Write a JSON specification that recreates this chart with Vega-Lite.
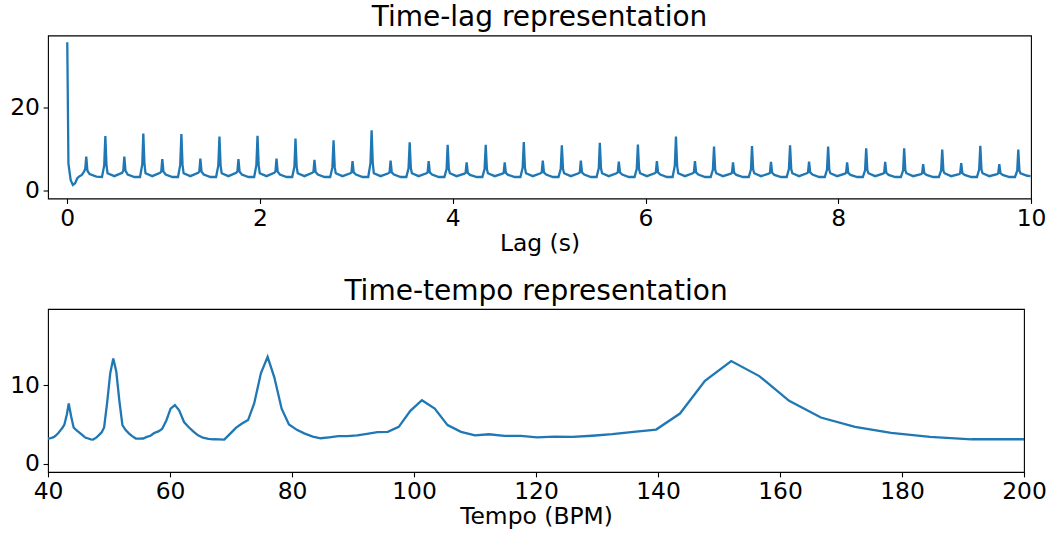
{
  "$schema": "https://vega.github.io/schema/vega-lite/v6.json",
  "padding": {"left": 9, "top": 2.5, "right": 0, "bottom": 0},
  "spacing": 20.5,
  "config": {
    "font": "DejaVu Sans",
    "view": {"stroke": "black", "strokeWidth": 1.1},
    "axis": {"domain": false, "grid": false, "ticks": true, "tickColor": "black", "tickSize": 4.9, "tickWidth": 1.1, "labelFont": "DejaVu Sans", "labelFontSize": 23.4, "labelColor": "black", "labelPadding": 3.6, "labelFlush": false, "labelOverlap": false, "titleFont": "DejaVu Sans", "titleFontSize": 23.4, "titleFontWeight": "normal", "titleColor": "black", "titlePadding": 3.0},
    "title": {"font": "DejaVu Sans", "fontSize": 28, "fontWeight": "normal", "color": "black", "anchor": "middle", "offset": 3.5, "frame": "group", "baseline": "alphabetic"}
  },
  "datasets": {
    "lag": [
      {"lag":0,"value":35.6},{"lag":0.012,"value":6.5},{"lag":0.035,"value":2.6},{"lag":0.058,"value":1.4},{"lag":0.081,"value":1.8},{"lag":0.104,"value":3.0},{"lag":0.128,"value":3.5},{"lag":0.151,"value":3.8},{"lag":0.174,"value":4.6},{"lag":0.186,"value":5.2},{"lag":0.197,"value":8.2},{"lag":0.209,"value":4.8},{"lag":0.232,"value":4.0},{"lag":0.302,"value":3.4},{"lag":0.360,"value":3.3},{"lag":0.383,"value":6.0},
      {"lag":0.395,"value":13.1},{"lag":0.407,"value":6.0},{"lag":0.418,"value":4.2},{"lag":0.488,"value":3.5},{"lag":0.569,"value":4.3},{"lag":0.581,"value":4.8},{"lag":0.592,"value":8.2},{"lag":0.604,"value":4.8},{"lag":0.627,"value":3.9},{"lag":0.697,"value":3.3},{"lag":0.755,"value":3.3},{"lag":0.778,"value":6.3},
      {"lag":0.789,"value":13.7},{"lag":0.801,"value":6.3},{"lag":0.812,"value":4.2},{"lag":0.882,"value":3.5},{"lag":0.963,"value":4.3},{"lag":0.975,"value":4.6},{"lag":0.986,"value":7.6},{"lag":0.998,"value":4.6},{"lag":1.021,"value":3.9},{"lag":1.091,"value":3.3},{"lag":1.149,"value":3.3},{"lag":1.172,"value":6.2},
      {"lag":1.184,"value":13.6},{"lag":1.196,"value":6.2},{"lag":1.207,"value":4.2},{"lag":1.277,"value":3.5},{"lag":1.358,"value":4.3},{"lag":1.370,"value":4.6},{"lag":1.381,"value":7.7},{"lag":1.393,"value":4.6},{"lag":1.416,"value":3.9},{"lag":1.486,"value":3.3},{"lag":1.544,"value":3.3},{"lag":1.567,"value":6.0},
      {"lag":1.579,"value":13.0},{"lag":1.591,"value":6.0},{"lag":1.602,"value":4.2},{"lag":1.672,"value":3.5},{"lag":1.753,"value":4.3},{"lag":1.765,"value":4.6},{"lag":1.776,"value":7.6},{"lag":1.788,"value":4.6},{"lag":1.811,"value":3.9},{"lag":1.881,"value":3.3},{"lag":1.939,"value":3.3},{"lag":1.962,"value":6.1},
      {"lag":1.974,"value":13.2},{"lag":1.986,"value":6.1},{"lag":1.997,"value":4.2},{"lag":2.067,"value":3.5},{"lag":2.148,"value":4.3},{"lag":2.160,"value":4.6},{"lag":2.171,"value":7.7},{"lag":2.183,"value":4.6},{"lag":2.206,"value":3.9},{"lag":2.276,"value":3.3},{"lag":2.334,"value":3.3},{"lag":2.357,"value":5.8},
      {"lag":2.368,"value":12.5},{"lag":2.380,"value":5.8},{"lag":2.391,"value":4.2},{"lag":2.461,"value":3.5},{"lag":2.542,"value":4.3},{"lag":2.554,"value":4.5},{"lag":2.565,"value":7.4},{"lag":2.577,"value":4.5},{"lag":2.600,"value":3.9},{"lag":2.670,"value":3.3},{"lag":2.728,"value":3.3},{"lag":2.751,"value":5.6},
      {"lag":2.763,"value":12.1},{"lag":2.775,"value":5.6},{"lag":2.786,"value":4.2},{"lag":2.856,"value":3.5},{"lag":2.937,"value":4.2},{"lag":2.949,"value":4.4},{"lag":2.960,"value":7.1},{"lag":2.972,"value":4.4},{"lag":2.995,"value":3.9},{"lag":3.065,"value":3.3},{"lag":3.123,"value":3.3},{"lag":3.146,"value":6.6},
      {"lag":3.158,"value":14.5},{"lag":3.170,"value":6.6},{"lag":3.181,"value":4.2},{"lag":3.251,"value":3.5},{"lag":3.332,"value":4.2},{"lag":3.344,"value":4.4},{"lag":3.355,"value":7.2},{"lag":3.367,"value":4.4},{"lag":3.390,"value":3.9},{"lag":3.460,"value":3.3},{"lag":3.518,"value":3.3},{"lag":3.541,"value":5.4},
      {"lag":3.553,"value":11.6},{"lag":3.565,"value":5.4},{"lag":3.576,"value":4.2},{"lag":3.646,"value":3.5},{"lag":3.727,"value":4.2},{"lag":3.739,"value":4.4},{"lag":3.750,"value":7.1},{"lag":3.762,"value":4.4},{"lag":3.785,"value":3.9},{"lag":3.855,"value":3.3},{"lag":3.913,"value":3.3},{"lag":3.936,"value":5.2},
      {"lag":3.947,"value":11.0},{"lag":3.959,"value":5.2},{"lag":3.970,"value":4.2},{"lag":4.040,"value":3.5},{"lag":4.121,"value":4.1},{"lag":4.133,"value":4.3},{"lag":4.144,"value":6.8},{"lag":4.156,"value":4.3},{"lag":4.179,"value":3.8},{"lag":4.249,"value":3.3},{"lag":4.307,"value":3.3},{"lag":4.330,"value":5.2},
      {"lag":4.342,"value":11.0},{"lag":4.354,"value":5.2},{"lag":4.365,"value":4.2},{"lag":4.435,"value":3.5},{"lag":4.516,"value":4.1},{"lag":4.528,"value":4.3},{"lag":4.539,"value":6.8},{"lag":4.551,"value":4.3},{"lag":4.574,"value":3.8},{"lag":4.644,"value":3.3},{"lag":4.702,"value":3.3},{"lag":4.725,"value":5.5},
      {"lag":4.737,"value":11.7},{"lag":4.749,"value":5.5},{"lag":4.760,"value":4.2},{"lag":4.830,"value":3.5},{"lag":4.911,"value":4.2},{"lag":4.923,"value":4.4},{"lag":4.934,"value":7.2},{"lag":4.946,"value":4.4},{"lag":4.969,"value":3.9},{"lag":5.039,"value":3.3},{"lag":5.097,"value":3.3},{"lag":5.120,"value":5.2},
      {"lag":5.132,"value":10.9},{"lag":5.144,"value":5.2},{"lag":5.155,"value":4.2},{"lag":5.225,"value":3.5},{"lag":5.306,"value":4.2},{"lag":5.318,"value":4.4},{"lag":5.329,"value":7.2},{"lag":5.341,"value":4.4},{"lag":5.364,"value":3.9},{"lag":5.434,"value":3.3},{"lag":5.492,"value":3.3},{"lag":5.515,"value":5.4},
      {"lag":5.526,"value":11.5},{"lag":5.538,"value":5.4},{"lag":5.549,"value":4.2},{"lag":5.619,"value":3.5},{"lag":5.700,"value":4.2},{"lag":5.712,"value":4.4},{"lag":5.723,"value":7.0},{"lag":5.735,"value":4.4},{"lag":5.758,"value":3.9},{"lag":5.828,"value":3.3},{"lag":5.886,"value":3.3},{"lag":5.909,"value":5.2},
      {"lag":5.921,"value":11.1},{"lag":5.933,"value":5.2},{"lag":5.944,"value":4.2},{"lag":6.014,"value":3.5},{"lag":6.095,"value":4.2},{"lag":6.107,"value":4.4},{"lag":6.118,"value":7.1},{"lag":6.130,"value":4.4},{"lag":6.153,"value":3.9},{"lag":6.223,"value":3.3},{"lag":6.281,"value":3.3},{"lag":6.304,"value":6.0},
      {"lag":6.316,"value":13.0},{"lag":6.328,"value":6.0},{"lag":6.339,"value":4.2},{"lag":6.409,"value":3.5},{"lag":6.490,"value":4.2},{"lag":6.502,"value":4.4},{"lag":6.513,"value":7.1},{"lag":6.525,"value":4.4},{"lag":6.548,"value":3.9},{"lag":6.618,"value":3.3},{"lag":6.676,"value":3.3},{"lag":6.699,"value":5.0},
      {"lag":6.711,"value":10.6},{"lag":6.723,"value":5.0},{"lag":6.734,"value":4.2},{"lag":6.804,"value":3.5},{"lag":6.885,"value":4.1},{"lag":6.897,"value":4.3},{"lag":6.908,"value":6.8},{"lag":6.920,"value":4.3},{"lag":6.943,"value":3.8},{"lag":7.013,"value":3.3},{"lag":7.071,"value":3.3},{"lag":7.094,"value":5.1},
      {"lag":7.105,"value":10.7},{"lag":7.117,"value":5.1},{"lag":7.128,"value":4.2},{"lag":7.198,"value":3.5},{"lag":7.279,"value":4.1},{"lag":7.291,"value":4.3},{"lag":7.302,"value":6.9},{"lag":7.314,"value":4.3},{"lag":7.337,"value":3.8},{"lag":7.407,"value":3.3},{"lag":7.465,"value":3.3},{"lag":7.488,"value":5.2},
      {"lag":7.500,"value":10.9},{"lag":7.512,"value":5.2},{"lag":7.523,"value":4.2},{"lag":7.593,"value":3.5},{"lag":7.674,"value":4.2},{"lag":7.686,"value":4.4},{"lag":7.697,"value":7.0},{"lag":7.709,"value":4.4},{"lag":7.732,"value":3.9},{"lag":7.802,"value":3.3},{"lag":7.860,"value":3.3},{"lag":7.883,"value":5.0},
      {"lag":7.895,"value":10.6},{"lag":7.907,"value":5.0},{"lag":7.918,"value":4.2},{"lag":7.988,"value":3.5},{"lag":8.069,"value":4.1},{"lag":8.081,"value":4.3},{"lag":8.092,"value":6.8},{"lag":8.104,"value":4.3},{"lag":8.127,"value":3.8},{"lag":8.197,"value":3.3},{"lag":8.255,"value":3.3},{"lag":8.278,"value":4.9},
      {"lag":8.290,"value":10.2},{"lag":8.302,"value":4.9},{"lag":8.313,"value":4.2},{"lag":8.383,"value":3.5},{"lag":8.464,"value":4.1},{"lag":8.476,"value":4.3},{"lag":8.487,"value":6.9},{"lag":8.499,"value":4.3},{"lag":8.522,"value":3.8},{"lag":8.592,"value":3.3},{"lag":8.650,"value":3.3},{"lag":8.673,"value":4.9},
      {"lag":8.684,"value":10.2},{"lag":8.696,"value":4.9},{"lag":8.707,"value":4.2},{"lag":8.777,"value":3.5},{"lag":8.858,"value":4.0},{"lag":8.870,"value":4.2},{"lag":8.881,"value":6.4},{"lag":8.893,"value":4.2},{"lag":8.916,"value":3.8},{"lag":8.986,"value":3.3},{"lag":9.044,"value":3.3},{"lag":9.067,"value":4.8},
      {"lag":9.079,"value":9.9},{"lag":9.091,"value":4.8},{"lag":9.102,"value":4.2},{"lag":9.172,"value":3.5},{"lag":9.253,"value":4.0},{"lag":9.265,"value":4.2},{"lag":9.276,"value":6.6},{"lag":9.288,"value":4.2},{"lag":9.311,"value":3.8},{"lag":9.381,"value":3.3},{"lag":9.439,"value":3.3},{"lag":9.462,"value":5.1},
      {"lag":9.474,"value":10.8},{"lag":9.486,"value":5.1},{"lag":9.497,"value":4.2},{"lag":9.567,"value":3.5},{"lag":9.648,"value":4.0},{"lag":9.660,"value":4.2},{"lag":9.671,"value":6.4},{"lag":9.683,"value":4.2},{"lag":9.706,"value":3.8},{"lag":9.776,"value":3.3},{"lag":9.834,"value":3.3},{"lag":9.857,"value":4.8},
      {"lag":9.868,"value":9.9},{"lag":9.880,"value":4.8},{"lag":9.891,"value":4.2},{"lag":9.961,"value":3.6},{"lag":9.995,"value":3.5}
    ],
    "tempo": [
      {"bpm":39.75,"value":3.19},{"bpm":40.1,"value":3.2},{"bpm":40.4,"value":3.25},{"bpm":40.7,"value":3.32},{"bpm":41.0,"value":3.4},{"bpm":41.3,"value":3.6},{"bpm":41.7,"value":3.9},{"bpm":42.0,"value":4.2},{"bpm":42.4,"value":4.6},{"bpm":42.7,"value":5.0},{"bpm":43.1,"value":6.3},{"bpm":43.4,"value":7.66},{"bpm":43.8,"value":6.0},{"bpm":44.2,"value":4.6},{"bpm":44.6,"value":4.3},{"bpm":44.9,"value":4.1},{"bpm":45.3,"value":3.85},{"bpm":45.7,"value":3.6},{"bpm":46.1,"value":3.32},{"bpm":46.6,"value":3.2},{"bpm":47.0,"value":3.1},{"bpm":47.4,"value":3.06},{"bpm":47.9,"value":3.3},{"bpm":48.3,"value":3.6},{"bpm":48.8,"value":4.0},{"bpm":49.2,"value":4.6},{"bpm":49.7,"value":7.8},{"bpm":50.2,"value":11.5},{"bpm":50.7,"value":13.4},{"bpm":51.2,"value":11.7},{"bpm":51.7,"value":8.0},{"bpm":52.2,"value":4.9},{"bpm":52.7,"value":4.3},{"bpm":53.3,"value":3.83},{"bpm":53.8,"value":3.5},{"bpm":54.4,"value":3.19},{"bpm":55.0,"value":3.19},{"bpm":55.6,"value":3.2},{"bpm":56.2,"value":3.4},{"bpm":56.8,"value":3.55},{"bpm":57.4,"value":3.9},{"bpm":58.1,"value":4.1},{"bpm":58.7,"value":4.4},{"bpm":59.4,"value":5.5},{"bpm":60.1,"value":7.0},{"bpm":60.8,"value":7.45},{"bpm":61.5,"value":6.8},{"bpm":62.3,"value":5.3},{"bpm":63.0,"value":4.7},{"bpm":63.8,"value":4.1},{"bpm":64.6,"value":3.6},{"bpm":65.4,"value":3.3},{"bpm":66.3,"value":3.14},{"bpm":67.1,"value":3.1},{"bpm":68.0,"value":3.08},{"bpm":68.9,"value":3.06},{"bpm":69.8,"value":3.75},{"bpm":70.8,"value":4.55},{"bpm":71.8,"value":5.1},{"bpm":72.8,"value":5.55},{"bpm":73.8,"value":7.66},{"bpm":74.9,"value":11.5},{"bpm":76.0,"value":13.6},{"bpm":77.1,"value":11.0},{"bpm":78.3,"value":7.0},{"bpm":79.5,"value":5.0},{"bpm":80.8,"value":4.3},{"bpm":82.0,"value":3.85},{"bpm":83.4,"value":3.45},{"bpm":84.7,"value":3.23},{"bpm":86.1,"value":3.35},{"bpm":87.6,"value":3.49},{"bpm":89.1,"value":3.5},{"bpm":90.7,"value":3.6},{"bpm":92.3,"value":3.8},{"bpm":94.0,"value":4.0},{"bpm":95.7,"value":4.04},{"bpm":97.5,"value":4.68},{"bpm":99.4,"value":6.72},{"bpm":101.3,"value":8.08},{"bpm":103.4,"value":7.02},{"bpm":105.5,"value":4.9},{"bpm":107.7,"value":4.04},{"bpm":110.0,"value":3.61},{"bpm":112.3,"value":3.74},{"bpm":114.8,"value":3.53},{"bpm":117.5,"value":3.53},{"bpm":120.2,"value":3.35},{"bpm":123.0,"value":3.45},{"bpm":126.0,"value":3.4},{"bpm":129.2,"value":3.55},{"bpm":132.5,"value":3.75},{"bpm":136.0,"value":4.05},{"bpm":139.7,"value":4.34},{"bpm":143.6,"value":6.38},{"bpm":147.7,"value":10.55},{"bpm":152.0,"value":13.07},{"bpm":156.6,"value":11.15},{"bpm":161.5,"value":8.0},{"bpm":166.7,"value":5.87},{"bpm":172.3,"value":4.68},{"bpm":178.2,"value":3.91},{"bpm":184.6,"value":3.4},{"bpm":191.4,"value":3.1},{"bpm":198.8,"value":3.1},{"bpm":206.7,"value":3.1}
    ]
  },
  "vconcat": [
    {
      "title": {"text": "Time-lag representation"},
      "width": 983,
      "height": 163,
      "data": {"name": "lag"},
      "mark": {"type": "line", "color": "#1f77b4", "strokeWidth": 2.3, "clip": true},
      "encoding": {
        "x": {"field": "lag", "type": "quantitative", "scale": {"domain": [-0.2, 10], "nice": false, "zero": false}, "axis": {"title": "Lag (s)", "values": [0, 2, 4, 6, 8, 10]}},
        "y": {"field": "value", "type": "quantitative", "scale": {"domain": [-1.85, 37.2], "nice": false, "zero": false}, "axis": {"title": null, "values": [0, 20]}}
      }
    },
    {
      "title": {"text": "Time-tempo representation"},
      "width": 976,
      "height": 163,
      "data": {"name": "tempo"},
      "mark": {"type": "line", "color": "#1f77b4", "strokeWidth": 2.3, "clip": true},
      "encoding": {
        "x": {"field": "bpm", "type": "quantitative", "scale": {"domain": [40, 200], "nice": false, "zero": false}, "axis": {"title": "Tempo (BPM)", "values": [40, 60, 80, 100, 120, 140, 160, 180, 200]}},
        "y": {"field": "value", "type": "quantitative", "scale": {"domain": [-1.07, 19.7], "nice": false, "zero": false}, "axis": {"title": null, "values": [0, 10]}}
      }
    }
  ]
}
